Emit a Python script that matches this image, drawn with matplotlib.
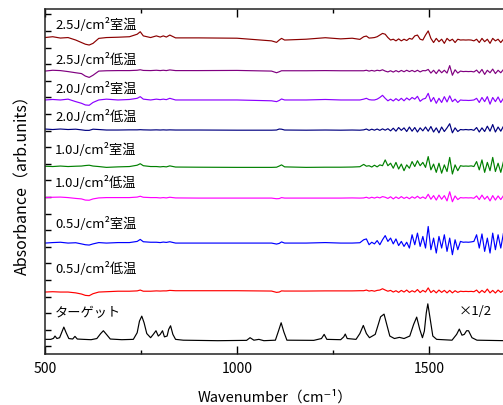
import numpy as np
import matplotlib
matplotlib.use('Agg')
import matplotlib.pyplot as plt

plt.rcParams['font.family'] = ['Noto Sans CJK JP', 'DejaVu Sans']

# wavenumber grid of the sample spectra (cm-1): smooth part + noisy part
wn_low = [500, 520, 540, 560, 580, 595, 605, 615, 625, 640, 660, 690, 720, 740, 748,
          756, 775, 790, 800, 808, 816, 825, 840, 900, 1000, 1090, 1103, 1110, 1116, 1124,
          1180, 1230, 1270, 1300, 1320]
wn_high = np.arange(1330, 1702, 7)

labels = ['2.5J/cm²室温', '2.5J/cm²低温', '2.0J/cm²室温', '2.0J/cm²低温',
          '1.0J/cm²室温', '1.0J/cm²低温', '0.5J/cm²室温', '0.5J/cm²低温']
colors = ['#8B0000', '#800080', '#8B00FF', '#000080',
          '#008000', '#FF00FF', '#0000FF', '#FF0000']
offsets = [18.60, 16.58, 14.84, 13.06, 10.83, 8.96, 6.22, 3.27]
label_y = [19.36, 17.25, 15.5, 13.81, 11.83, 9.84, 7.37, 4.66]

# 2.5 J/cm2 room temp
a25rt_low = [0, 0.05, -0.03, 0, -0.15, -0.3, -0.4, -0.45, -0.35, -0.05, 0, 0.02, 0.05, 0.2, 0.35,
             0.1, 0, 0.1, 0.03, 0.1, 0.03, 0.15, -0.02, -0.02, -0.04, -0.2, -0.29, -0.15, -0.05, -0.15,
             -0.1, -0.01, -0.08, -0.04, -0.11]
a25rt_high = [0.05, 0.09, -0.03, -0.02, 0.0, 0.05, 0.15, 0.25, 0.2, 0.0,
              -0.15, -0.1, -0.2, -0.08, -0.2, -0.1, -0.18, -0.05, -0.1, 0.1,
              0.15, -0.1, -0.15, 0.15, 0.4, -0.05, -0.3, -0.05, -0.25, -0.1,
              -0.35, -0.05, -0.2, -0.1, -0.3, -0.1, -0.15, -0.14, -0.15, -0.14,
              -0.15, -0.2, -0.1, -0.3, -0.05, -0.25, -0.1, -0.35, -0.05, -0.2,
              -0.1, -0.3, -0.1, -0.2]

# 2.5 J/cm2 low temp
a25lt_low = [0, 0.05, 0.03, -0.03, -0.1, -0.15, -0.3, -0.38, -0.25, 0.0, 0.02, 0.03, 0.03, 0.05, 0.08,
             0.04, 0.03, 0.05, 0.03, 0.05, 0.03, 0.07, 0.03, 0.03, 0.04, 0.0, -0.1, -0.04, 0.02, 0.02,
             0.02, 0.03, 0.02, 0.02, 0.02]
a25lt_high = [0.02, 0.05, 0.0, 0.04, 0.0, 0.05, 0.02, 0.08, 0.0, -0.05,
              0.02, -0.06, 0.03, -0.05, 0.04, -0.04, 0.05, -0.03, 0.04, -0.04,
              0.05, -0.05, 0.03, 0.02, 0.1, -0.12, 0.05, -0.15, 0.08, -0.1,
              0.05, -0.12, 0.33, -0.25, 0.08, -0.12, 0.0, -0.03, -0.02, -0.03,
              -0.02, -0.05, 0.06, -0.12, 0.1, -0.2, 0.05, -0.1, 0.12, -0.15,
              0.05, -0.1, 0.1, -0.05]

# 2.0 J/cm2 room temp
a20rt_low = [0, 0.03, 0.0, 0.05, -0.1, -0.2, -0.3, -0.32, -0.15, 0.0, 0.05, 0.0, 0.03, 0.1, 0.2,
             0.05, 0.0, 0.05, 0.02, 0.05, 0.02, 0.1, 0.0, 0.0, 0.0, -0.05, -0.1, -0.03, 0.06, 0.0,
             0.0, 0.03, 0.0, 0.0, 0.0]
a20rt_high = [0.05, 0.1, 0.02, 0.0, 0.0, 0.05, 0.15, 0.28, 0.1, -0.05,
              0.05, -0.06, 0.08, -0.04, 0.1, -0.05, 0.12, 0.0, 0.15, 0.05,
              0.22, -0.08, 0.05, 0.1, 0.4, -0.1, 0.15, -0.2, 0.1, -0.15,
              0.2, -0.12, 0.25, -0.1, 0.05, -0.15, 0.0, -0.02, -0.02, -0.03,
              -0.02, 0.0, 0.1, -0.15, 0.15, -0.1, 0.2, -0.25, 0.15, -0.1,
              0.18, -0.15, 0.1, -0.1]

# 2.0 J/cm2 low temp
a20lt_low = [0.03, 0.0, 0.03, 0.0, 0.02, -0.02, -0.05, -0.05, 0.02, 0.0, -0.03, -0.03, -0.02, -0.02, -0.01,
             -0.02, -0.03, -0.02, -0.03, -0.02, -0.03, -0.02, -0.03, -0.03, -0.04, -0.04, -0.03, 0.03, 0.02, -0.03,
             -0.04, -0.03, -0.04, -0.03, -0.04]
a20lt_high = [-0.02, 0.03, -0.05, 0.02, -0.04, 0.03, -0.05, 0.04, -0.04, 0.05,
              -0.08, 0.08, -0.1, 0.12, -0.05, 0.1, -0.12, 0.15, -0.1, 0.12,
              -0.15, 0.1, -0.08, 0.15, -0.1, 0.18, -0.15, 0.1, -0.2, 0.15,
              -0.12, 0.1, 0.35, -0.2, 0.1, -0.12, 0.0, -0.02, 0.0, -0.02,
              0.0, -0.05, 0.12, -0.15, 0.1, -0.12, 0.2, -0.1, 0.3, -0.15,
              0.15, -0.1, 0.2, -0.05]

# 1.0 J/cm2 room temp
a10rt_low = [0.02, 0.0, 0.03, 0.0, 0.02, 0.03, 0.06, 0.08, 0.03, 0.0, -0.05, -0.02, 0.0, 0.08, 0.17,
             0.05, 0.0, 0.0, -0.02, 0.0, -0.02, 0.04, -0.03, -0.04, -0.05, -0.05, -0.04, 0.03, 0.1, -0.02,
             -0.05, -0.04, -0.04, -0.03, -0.01]
a10rt_high = [0.13, 0.02, 0.05, -0.03, 0.08, -0.02, 0.1, 0.05, 0.4, 0.05,
              0.2, -0.1, 0.25, -0.15, 0.15, -0.25, 0.1, -0.1, 0.3, 0.0,
              0.35, 0.05, 0.25, -0.05, 0.6, -0.2, 0.15, -0.35, 0.2, -0.4,
              0.1, -0.3, 0.55, -0.45, 0.1, -0.25, 0.05, 0.02, 0.03, 0.02,
              0.04, 0.0, 0.3, -0.2, 0.4, -0.35, 0.25, -0.25, 0.55, -0.3,
              0.2, -0.35, 0.3, -0.1]

# 1.0 J/cm2 low temp
a10lt_low = [0.0, 0.02, 0.03, 0.0, -0.05, -0.08, -0.15, -0.16, -0.08, -0.02, 0.0, 0.0, 0.0, 0.03, 0.08,
             0.02, 0.0, 0.0, -0.02, 0.0, -0.02, 0.02, -0.02, -0.03, -0.03, -0.03, -0.07, -0.06, 0.0, -0.03,
             -0.03, -0.03, -0.03, -0.02, -0.03]
a10lt_high = [-0.02, 0.02, -0.04, 0.02, -0.03, 0.03, -0.02, 0.06, 0.02, -0.05,
              0.05, -0.08, 0.04, -0.06, 0.06, -0.05, 0.03, -0.07, 0.05, -0.04,
              0.08, -0.05, 0.04, -0.06, 0.2, -0.1, 0.12, -0.15, 0.15, -0.1,
              0.12, -0.2, 0.35, -0.25, 0.1, -0.12, 0.0, -0.02, -0.01, -0.02,
              -0.01, -0.04, 0.1, -0.12, 0.15, -0.1, 0.08, -0.2, 0.12, -0.15,
              0.1, -0.12, 0.12, -0.05]

# 0.5 J/cm2 room temp
a05rt_low = [0.0, 0.03, 0.05, 0.0, 0.02, -0.05, -0.1, -0.12, -0.05, 0.03, 0.0, 0.03, 0.03, 0.1, 0.22,
             0.08, 0.05, 0.05, 0.03, 0.06, 0.04, 0.08, 0.0, 0.0, 0.0, 0.0, -0.06, -0.02, 0.07, 0.0,
             0.0, 0.03, 0.0, 0.0, 0.02]
a05rt_high = [0.2, 0.25, -0.1, 0.05, -0.05, 0.15, -0.1, 0.2, 0.45, 0.1,
              0.3, -0.05, 0.25, -0.15, 0.1, -0.2, 0.05, -0.3, 0.5, -0.1,
              0.6, -0.2, 0.4, -0.3, 1.0, -0.4, 0.3, -0.6, 0.4, -0.3,
              0.5, -0.5, 0.3, -0.7, 0.2, -0.4, 0.1, 0.05, 0.06, 0.05,
              0.07, 0.1, 0.5, -0.3, 0.55, -0.5, 0.3, -0.6, 0.6, -0.4,
              0.5, -0.3, 0.6, -0.1]

# 0.5 J/cm2 low temp
a05lt_low = [0.0, 0.02, 0.0, 0.0, -0.05, -0.12, -0.2, -0.22, -0.1, 0.0, 0.02, 0.05, 0.05, 0.07, 0.12,
             0.05, 0.05, 0.07, 0.06, 0.07, 0.07, 0.1, 0.08, 0.08, 0.08, 0.06, -0.02, 0.0, 0.07, 0.06,
             0.06, 0.07, 0.07, 0.07, 0.08]
a05lt_high = [0.08, 0.12, 0.06, 0.09, 0.05, 0.1, 0.12, 0.2, 0.12, 0.05,
              0.1, 0.0, 0.08, -0.02, 0.1, 0.0, 0.12, -0.02, 0.08, 0.0,
              0.15, -0.03, 0.1, 0.0, 0.25, -0.03, 0.1, -0.05, 0.12, -0.02,
              0.1, -0.05, 0.1, -0.05, 0.08, -0.02, 0.05, 0.03, 0.04, 0.03,
              0.04, 0.02, 0.12, -0.05, 0.1, -0.03, 0.18, -0.05, 0.1, -0.06,
              0.12, -0.02, 0.1, 0.0]

sample_spectra = [(a25rt_low, a25rt_high), (a25lt_low, a25lt_high),
                  (a20rt_low, a20rt_high), (a20lt_low, a20lt_high),
                  (a10rt_low, a10rt_high), (a10lt_low, a10lt_high),
                  (a05rt_low, a05rt_high), (a05lt_low, a05lt_high)]

# target spectrum (x1/2)
wn_target = [500, 515, 522, 526, 531, 538, 544, 549, 555, 562, 572, 578, 584, 600, 620,
             635, 645, 652, 660, 670, 700, 730, 740, 746, 752, 758, 765, 775, 782, 789,
             795, 800, 806, 811, 818, 822, 827, 833, 840, 860, 950, 1025, 1034, 1044, 1057,
             1070, 1100, 1108, 1115, 1122, 1130, 1200, 1220, 1227, 1234, 1270, 1278, 1282, 1287, 1310,
             1320, 1329, 1337, 1345, 1360, 1368, 1374, 1383, 1390, 1398, 1410, 1423, 1435, 1450, 1460,
             1468, 1476, 1483, 1488, 1493, 1497, 1502, 1510, 1520, 1560, 1572, 1579, 1586, 1592, 1598,
             1603, 1612, 1625, 1700]
abs_target = [0.0, 0.0, 0.06, 0.2, 0.05, 0.1, 0.45, 0.74, 0.4, 0.05, 0.02, 0.18, 0.02, 0.0, -0.02,
              0.05, 0.35, 0.52, 0.3, 0.02, -0.02, 0.0, 0.4, 1.1, 1.4, 1.0, 0.35, 0.1, 0.3, 0.52,
              0.2, 0.3, 0.52, 0.15, 0.2, 0.6, 0.82, 0.3, 0.0, -0.05, -0.08, -0.06, 0.1, -0.05, 0.0,
              -0.08, -0.05, 0.5, 1.0, 0.45, -0.05, -0.06, 0.05, 0.3, 0.0, -0.02, 0.15, 0.32, 0.05, 0.0,
              0.35, 0.84, 0.35, 0.1, 0.3, 0.9, 1.36, 1.52, 0.9, 0.2, 0.05, 0.12, 0.05, 0.2, 0.9,
              1.34, 0.6, 0.1, 0.5, 1.6, 2.14, 1.4, 0.2, 0.0, -0.05, 0.3, 0.62, 0.25, 0.3, 0.52,
              0.52, 0.1, -0.05, -0.08]
target_offset = 0.42

fig = plt.figure(figsize=(5.03, 4.05), dpi=100)
ax = fig.add_axes([0.0895, 0.126, 0.916, 0.8526])

wn = np.concatenate([wn_low, wn_high])
for (lo, hi), off, col, lab, ly in zip(sample_spectra, offsets, colors, labels, label_y):
    ax.plot(wn, np.concatenate([lo, hi]) + off, color=col, lw=0.85)
    ax.text(526, ly, lab, fontsize=9.5, ha='left', va='center')

ax.plot(wn_target, np.array(abs_target) + target_offset, color='black', lw=0.85)
ax.text(526, 2.0, 'ターゲット', fontsize=9.5, ha='left', va='center')
ax.text(1578, 2.07, '×1/2', fontsize=9.5, ha='left', va='center')

ax.set_xlim(500, 1700)
ax.set_ylim(-0.46, 20.34)
ax.set_xticks([500, 1000, 1500])
ax.set_xticks([750, 1250], minor=True)
ax.set_yticks(np.arange(0, 21))
ax.set_yticklabels([])
ax.tick_params(axis='x', which='major', direction='in', length=6, width=1, top=True, labelsize=10, pad=6)
ax.tick_params(axis='x', which='minor', direction='in', length=3, width=1, top=True)
ax.tick_params(axis='y', direction='in', length=4, width=1)
for s in ax.spines.values():
    s.set_linewidth(1.1)
    s.set_color('#222222')

ax.set_xlabel('Wavenumber（cm⁻¹）', fontsize=10.5, labelpad=10)
ax.set_ylabel('Absorbance（arb.units）', fontsize=11.5, labelpad=6)

fig.savefig('out.png', dpi=100)
